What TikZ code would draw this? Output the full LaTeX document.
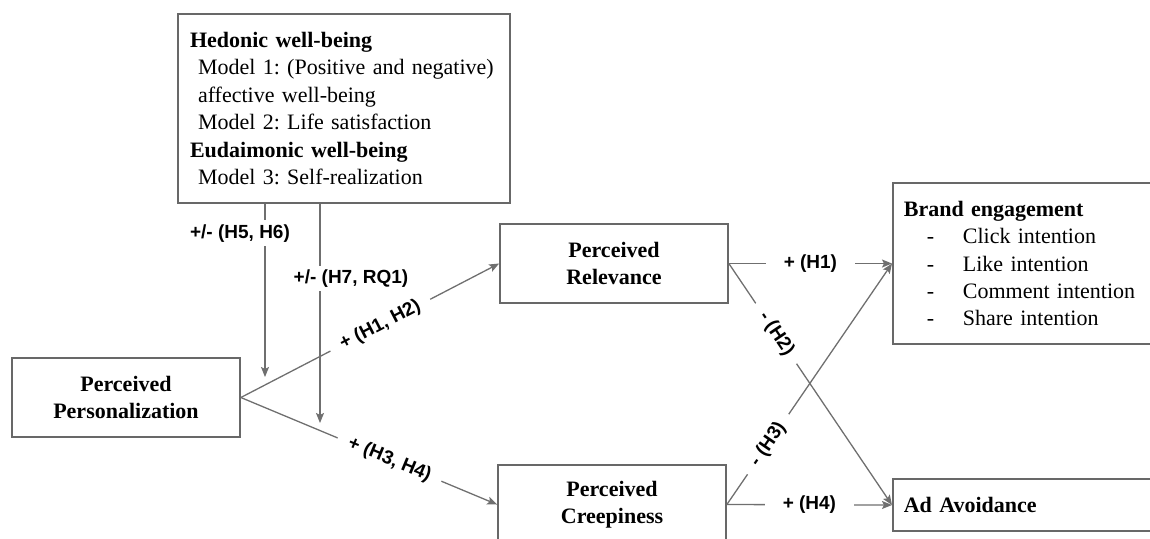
\documentclass[tikz,border=0pt]{standalone}
\usepackage{fontspec}
\setmainfont{Liberation Serif}
\setsansfont{Liberation Sans}
\usetikzlibrary{arrows.meta}
\definecolor{colLine}{HTML}{6F6F6F}
\definecolor{colEdge}{HTML}{686868}
\frenchspacing

\begin{document}
\begin{tikzpicture}[
    x=0.5pt, y=-0.5pt,
    font=\fontsize{11}{13.7}\selectfont,
    >={Stealth[length=5pt,width=4pt,inset=1pt]},
    box/.style={draw=colEdge, line width=0.85pt, align=center, inner sep=0pt,
                minimum width=114pt, minimum height=39.5pt,
                font=\fontsize{11}{13.7}\selectfont\bfseries},
    listbox/.style={draw=colEdge, line width=0.85pt, align=left, anchor=west,
                    inner xsep=5.5pt, inner ysep=0pt, text width=160pt},
    arr/.style={->, draw=colLine, line width=0.65pt},
    lbl/.style={font=\fontsize{9.5}{11}\sffamily\bfseries, fill=white,
                inner xsep=6pt, inner ysep=2pt},
]
\clip (0,0) rectangle (1150,538);

% ---- Moderators ------------------------------------------------------------
\node[draw=colEdge, line width=0.85pt, align=left, text width=154pt,
      inner xsep=6pt, minimum height=94.5pt] (wb) at (344,108.5) {%
    \textbf{Hedonic well-being}\\
    \hspace*{4pt}Model 1: (Positive and negative)\\
    \hspace*{4pt}affective well-being\\
    \hspace*{4pt}Model 2: Life satisfaction\\
    \textbf{Eudaimonic well-being}\\
    \hspace*{4pt}Model 3: Self-realization};

% ---- Constructs ------------------------------------------------------------
\node[box] (pp)  at (126,397.5) {Perceived\\Personalization};
\node[box] (rel) at (614,263.5) {Perceived\\Relevance};
\node[box] (cre) at (612,504.5) {Perceived\\Creepiness};

\node[listbox, minimum height=80.5pt] (be) at (892,263.5) {%
    \textbf{Brand engagement}\\
    \hspace*{11.5pt}\makebox[18pt][l]{-}Click intention\\
    \hspace*{11.5pt}\makebox[18pt][l]{-}Like intention\\
    \hspace*{11.5pt}\makebox[18pt][l]{-}Comment intention\\
    \hspace*{11.5pt}\makebox[18pt][l]{-}Share intention};
\node[listbox, minimum height=26pt] (ad) at (892,505) {\textbf{Ad Avoidance}};

% ---- Paths -----------------------------------------------------------------
\coordinate (mod1) at (265,377);
\coordinate (mod2) at (320,423);
\draw[arr] (wb.south west -| mod1) -- node[lbl, pos=0.17, xshift=-12.5pt, inner xsep=1pt] {+/- (H5, H6)} (mod1);
\draw[arr] (wb.south west -| mod2) -- node[lbl, pos=0.34, xshift=15.5pt, inner xsep=1pt] {+/- (H7, RQ1)} (mod2);

\draw[arr] (pp.east) -- node[lbl, sloped, pos=0.54] {+ (H1, H2)} (rel.west);
\draw[arr] (pp.east) -- node[lbl, sloped, pos=0.58] {+ (H3, H4)} (cre.west);

\draw[arr] (rel.east) -- node[lbl, pos=0.5, inner xsep=9pt] {+ (H1)} (be.west);
\draw[arr] (rel.east) -- node[lbl, sloped, pos=0.29] {- (H2)} (ad.west);
\draw[arr] (cre.east) -- node[lbl, sloped, pos=0.25] {- (H3)} (be.west);
\draw[arr] (cre.east) -- node[lbl, pos=0.5, inner xsep=9pt] {+ (H4)} (ad.west);

\end{tikzpicture}
\end{document}
